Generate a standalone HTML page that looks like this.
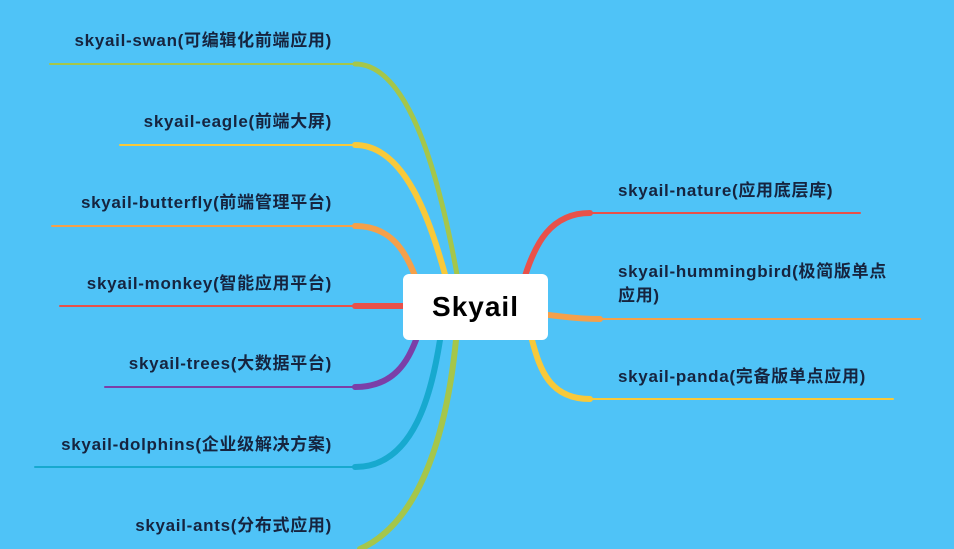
<!DOCTYPE html>
<html><head><style>
body{margin:0;width:954px;height:549px;overflow:hidden;background:#4fc3f7;font-family:"Liberation Sans","Noto Sans CJK SC",sans-serif;}
.t{position:absolute;font-size:17px;font-weight:bold;color:#16243f;white-space:nowrap;line-height:24px;letter-spacing:0.7px}
.r{text-align:right}
#box{position:absolute;left:403px;top:274px;width:145px;height:66px;background:#fff;border-radius:6px;font-size:28px;font-weight:bold;color:#000;text-align:center;line-height:66px;letter-spacing:1px}
</style></head><body>
<svg width="954" height="549" style="position:absolute;left:0;top:0" fill="none" stroke-linecap="round">
<g stroke-width="2">
<path d="M50 64H355" stroke="#a5c64a"/>
<path d="M120 145H355" stroke="#f8c93a"/>
<path d="M52 226H355" stroke="#f5a04a"/>
<path d="M60 306H355" stroke="#e8514a"/>
<path d="M105 387H355" stroke="#7b3fa8"/>
<path d="M35 467H355" stroke="#17a9cf"/>
<path d="M590 213H860" stroke="#e8514a"/>
<path d="M600 319H920" stroke="#f5a04a"/>
<path d="M590 399H893" stroke="#f8c93a"/>
</g>
<g stroke-width="6">
<path d="M355 64C410 64 440 180 458 280" stroke="#a5c64a" stroke-width="5"/>
<path d="M355 145C405 145 430 220 446 278" stroke="#f8c93a"/>
<path d="M355 226C390 226 405 250 415 276" stroke="#f5a04a"/>
<path d="M355 306L405 306" stroke="#e8514a"/>
<path d="M355 387C395 387 408 360 416 340" stroke="#7b3fa8"/>
<path d="M355 467C415 467 432 390 440 340" stroke="#17a9cf"/>
<path d="M360 549C425 520 448 420 456 340" stroke="#a5c64a"/>
<path d="M590 213C550 213 535 245 525 276" stroke="#e8514a"/>
<path d="M600 319C575 319 560 316 548 315" stroke="#f5a04a"/>
<path d="M590 399C550 399 540 370 532 340" stroke="#f8c93a"/>
</g>
</svg>
<div class="t r" style="right:622px;top:29px">skyail-swan(可编辑化前端应用)</div>
<div class="t r" style="right:622px;top:110px">skyail-eagle(前端大屏)</div>
<div class="t r" style="right:622px;top:191px">skyail-butterfly(前端管理平台)</div>
<div class="t r" style="right:622px;top:272px">skyail-monkey(智能应用平台)</div>
<div class="t r" style="right:622px;top:352px">skyail-trees(大数据平台)</div>
<div class="t r" style="right:622px;top:433px">skyail-dolphins(企业级解决方案)</div>
<div class="t r" style="right:622px;top:514px">skyail-ants(分布式应用)</div>
<div class="t" style="left:618px;top:179px">skyail-nature(应用底层库)</div>
<div class="t" style="left:618px;top:260px">skyail-hummingbird(极简版单点<br>应用)</div>
<div class="t" style="left:618px;top:365px">skyail-panda(完备版单点应用)</div>
<div id="box">Skyail</div>
</body></html>
